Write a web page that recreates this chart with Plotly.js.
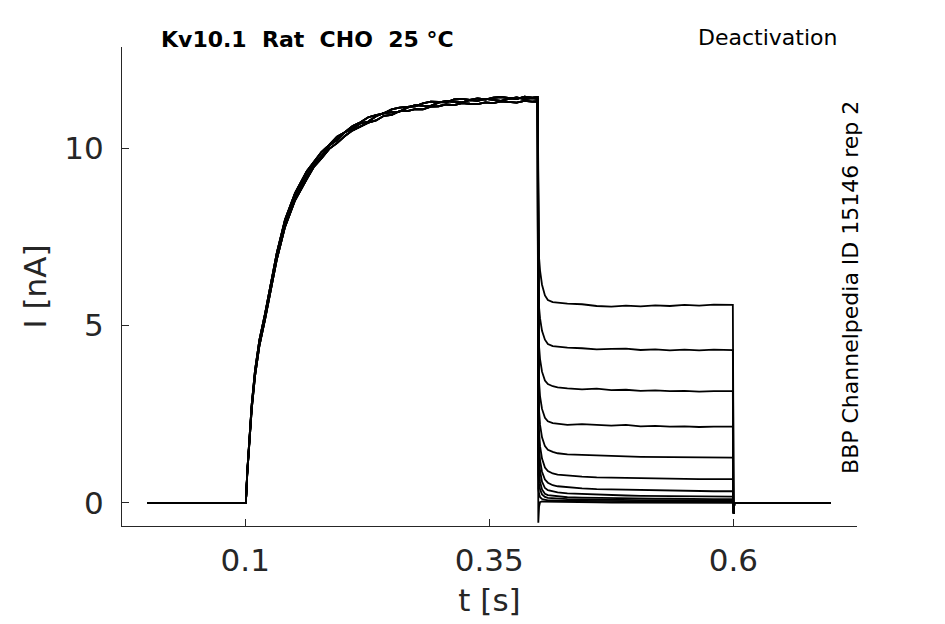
<!DOCTYPE html>
<html>
<head>
<meta charset="utf-8">
<script src="https://cdn.plot.ly/plotly-3.0.1.min.js"></script>
<style>
  body { margin: 0; background: #fff; }
  #chart { width: 945px; height: 624px; }
</style>
</head>
<body>
<div id="chart"></div>
<script>
// activation step: baseline then rise (three slightly different sweeps)
let riseT = [0, 0.1, 0.1006, 0.102, 0.1042, 0.1066, 0.11, 0.1144, 0.1202, 0.1253, 0.1322, 0.1407, 0.151, 0.163,
  0.17, 0.178, 0.186, 0.194, 0.202, 0.21, 0.218, 0.226, 0.234, 0.242, 0.25, 0.258, 0.266, 0.274, 0.282,
  0.29, 0.298, 0.306, 0.314, 0.322, 0.33, 0.338, 0.346, 0.354, 0.362, 0.37, 0.378, 0.386, 0.394, 0.3995];
let riseA = [0, 0, 0, 0.84, 1.78, 2.71, 3.66, 4.5, 5.25, 6.0, 6.94, 7.88, 8.63, 9.24,
  9.54, 9.78, 10.07, 10.23, 10.45, 10.55, 10.70, 10.75, 10.90, 10.99, 11.02, 11.03, 11.14, 11.21, 11.19,
  11.19, 11.28, 11.33, 11.30, 11.29, 11.35, 11.33, 11.39, 11.36, 11.33, 11.39, 11.43, 11.38, 11.41, 11.39];
let riseB = [0, 0, 0, 0.8, 1.72, 2.64, 3.58, 4.42, 5.17, 5.92, 6.85, 7.78, 8.53, 9.13,
  9.46, 9.71, 9.98, 10.14, 10.34, 10.50, 10.60, 10.72, 10.78, 10.91, 10.94, 11.04, 11.04, 11.10, 11.09,
  11.17, 11.18, 11.23, 11.21, 11.27, 11.25, 11.24, 11.29, 11.27, 11.32, 11.30, 11.28, 11.33, 11.31, 11.32];
let riseC = [0, 0, 0, 0.88, 1.84, 2.78, 3.74, 4.58, 5.33, 6.08, 7.03, 7.98, 8.73, 9.35,
  9.59, 9.89, 10.09, 10.32, 10.45, 10.62, 10.73, 10.87, 10.93, 10.98, 11.09, 11.14, 11.16, 11.18, 11.26,
  11.31, 11.30, 11.29, 11.37, 11.39, 11.36, 11.40, 11.37, 11.42, 11.44, 11.42, 11.38, 11.45, 11.42, 11.44];

// deactivation steps: tail currents
let tailT = [0.4002, 0.401, 0.402, 0.404, 0.407, 0.41, 0.415, 0.42, 0.43, 0.445,
  0.46, 0.475, 0.49, 0.505, 0.52, 0.535, 0.55, 0.565, 0.58, 0.5995];
let tail1 = [7.2, 6.9, 6.55, 6.15, 5.85, 5.72, 5.66, 5.64, 5.62, 5.6, 5.55, 5.53, 5.56, 5.54, 5.57, 5.55, 5.58, 5.56, 5.59, 5.58];
let tail2 = [5.9, 5.5, 5.2, 4.85, 4.6, 4.48, 4.42, 4.4, 4.38, 4.36, 4.33, 4.34, 4.35, 4.31, 4.33, 4.3, 4.32, 4.3, 4.32, 4.31];
let tail3 = [4.8, 4.4, 4.05, 3.7, 3.45, 3.35, 3.29, 3.26, 3.23, 3.2, 3.22, 3.18, 3.19, 3.16, 3.17, 3.15, 3.16, 3.14, 3.15, 3.15];
let tail4 = [3.9, 3.4, 3.0, 2.65, 2.4, 2.3, 2.25, 2.23, 2.2, 2.22, 2.19, 2.18, 2.2, 2.16, 2.17, 2.15, 2.16, 2.14, 2.15, 2.15];
let tail5 = [3.1, 2.6, 2.2, 1.85, 1.6, 1.5, 1.44, 1.4, 1.37, 1.35, 1.33, 1.32, 1.31, 1.3, 1.3, 1.29, 1.29, 1.28, 1.29, 1.28];
let tail6 = [2.5, 2.0, 1.6, 1.25, 1.0, 0.9, 0.83, 0.8, 0.77, 0.74, 0.72, 0.71, 0.7, 0.69, 0.69, 0.68, 0.68, 0.67, 0.67, 0.67];
let tail7 = [2.0, 1.55, 1.2, 0.88, 0.66, 0.57, 0.5, 0.47, 0.44, 0.41, 0.39, 0.38, 0.37, 0.36, 0.35, 0.35, 0.34, 0.34, 0.33, 0.33];
let tail8 = [1.6, 1.2, 0.9, 0.6, 0.42, 0.36, 0.32, 0.3, 0.27, 0.25, 0.23, 0.22, 0.21, 0.2, 0.2, 0.19, 0.19, 0.18, 0.18, 0.18];
let tail9 = [1.2, 0.85, 0.6, 0.38, 0.26, 0.22, 0.2, 0.18, 0.16, 0.15, 0.14, 0.13, 0.13, 0.12, 0.12, 0.12, 0.11, 0.11, 0.11, 0.11];
let tail10 = [0.8, 0.55, 0.38, 0.24, 0.17, 0.14, 0.13, 0.12, 0.11, 0.1, 0.09, 0.09, 0.09, 0.08, 0.08, 0.08, 0.08, 0.08, 0.08, 0.08];
let tail11 = [0.4, 0.25, 0.16, 0.11, 0.08, 0.07, 0.07, 0.06, 0.06, 0.06, 0.05, 0.05, 0.05, 0.05, 0.05, 0.05, 0.05, 0.05, 0.05, 0.05];
let tail12 = [-0.56, -0.1, 0.02, 0.04, 0.04, 0.03, 0.03, 0.03, 0.02, 0.02, 0.02, 0.01, 0.01, 0.01, 0.01, 0.0, 0.0, 0.0, 0.0, 0.0];

// return to holding
let postT = [0.6, 0.6004, 0.601, 0.7];
let postI = [-0.02, -0.3, 0.0, 0.0];

let xTicks = [0.1, 0.35, 0.6];
let xTickText = ['0.1', '0.35', '0.6'];
let yTicks = [0, 5, 10];

let tails = [tail1, tail2, tail3, tail4, tail5, tail6, tail7, tail8, tail9, tail10, tail11, tail12];
let rises = [riseA, riseB, riseC];

let traces = tails.map((tail, i) => ({
  x: riseT.concat(tailT, postT),
  y: rises[i % 3].concat(tail, postI),
  mode: 'lines',
  line: { color: '#000', width: 1.8 },
  hoverinfo: 'skip'
}));

let font = 'DejaVu Sans, sans-serif';

let layout = {
  width: 945,
  height: 624,
  margin: { l: 122, r: 88, t: 47, b: 98 },
  paper_bgcolor: '#fff',
  plot_bgcolor: '#fff',
  showlegend: false,
  font: { family: font, color: '#262626' },
  xaxis: {
    range: [-0.0263, 0.7267],
    tickvals: xTicks,
    ticktext: xTickText,
    ticks: 'inside',
    ticklen: 7,
    tickcolor: '#262626',
    ticklabelstandoff: 7,
    showline: true,
    linecolor: '#262626',
    linewidth: 1,
    showgrid: false,
    zeroline: false,
    tickfont: { size: 31, family: font, color: '#262626' },
    title: { text: 't [s]', font: { size: 31, family: font, color: '#262626' }, standoff: 12 }
  },
  yaxis: {
    range: [-0.65, 12.85],
    tickvals: yTicks,
    ticks: 'inside',
    ticklen: 7,
    tickcolor: '#262626',
    ticklabelstandoff: 11,
    showline: true,
    linecolor: '#262626',
    linewidth: 1,
    showgrid: false,
    zeroline: false,
    tickfont: { size: 31, family: font, color: '#262626' },
    title: { text: 'I [nA]', font: { size: 31, family: font, color: '#262626' }, standoff: 8 }
  },
  annotations: [
    {
      text: '<b>Kv10.1\u00a0\u00a0Rat\u00a0\u00a0CHO\u00a0\u00a025 °C</b>',
      xref: 'paper', yref: 'paper', x: 0.0503, y: 1.0167,
      xanchor: 'left', yanchor: 'middle', showarrow: false,
      font: { size: 22, family: font, color: '#000' }
    },
    {
      text: 'Deactivation',
      xref: 'paper', yref: 'paper', x: 0.976, y: 1.0188,
      xanchor: 'right', yanchor: 'middle', showarrow: false,
      font: { size: 22, family: font, color: '#000' }
    },
    {
      text: 'BBP Channelpedia ID 15146 rep 2',
      xref: 'paper', yref: 'paper', x: 0.9918, y: 0.499,
      xanchor: 'center', yanchor: 'middle', showarrow: false, textangle: -90,
      font: { size: 22, family: font, color: '#000' }
    }
  ]
};

Plotly.newPlot(document.getElementById('chart'), traces, layout, { staticPlot: true });
</script>
</body>
</html>
